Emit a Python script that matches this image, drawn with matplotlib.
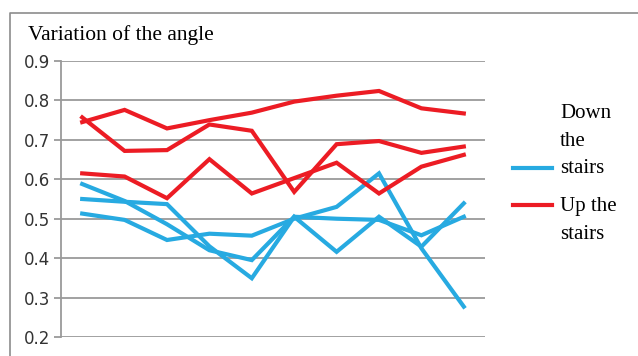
import matplotlib.pyplot as plt
from matplotlib.lines import Line2D

# measurement index along the stairs
steps = list(range(1, 11))

down_1 = [0.588, 0.545, 0.486, 0.42, 0.395, 0.505, 0.50, 0.497, 0.458, 0.505]
down_2 = [0.55, 0.543, 0.537, 0.43, 0.349, 0.505, 0.416, 0.505, 0.429, 0.539]
down_3 = [0.513, 0.497, 0.446, 0.462, 0.457, 0.50, 0.53, 0.615, 0.425, 0.277]

up_1 = [0.745, 0.776, 0.729, 0.75, 0.769, 0.797, 0.812, 0.824, 0.78, 0.767]
up_2 = [0.757, 0.672, 0.674, 0.739, 0.723, 0.568, 0.689, 0.697, 0.667, 0.683]
up_3 = [0.615, 0.607, 0.552, 0.651, 0.564, 0.603, 0.642, 0.564, 0.632, 0.662]

yticks = [0.2, 0.3, 0.4, 0.5, 0.6, 0.7, 0.8, 0.9]

BLUE = '#27aae1'
RED = '#ec1c24'
GRID = '#9a9a9a'

W, H = 638, 356
fig = plt.figure(figsize=(W / 100, H / 100), dpi=100)
ax = fig.add_axes([61 / W, 1 - 337 / H, (485 - 61) / W, (337 - 61) / H])

for ys in (down_1, down_2, down_3):
    ax.plot(steps, ys, color=BLUE, lw=3.0, solid_joinstyle='miter')
for ys in (up_1, up_2, up_3):
    ax.plot(steps, ys, color=RED, lw=3.0, solid_joinstyle='miter')

ax.set_xlim(0.5, 10.5)
ax.set_ylim(0.2, 0.9)
ax.set_yticks(yticks)
ax.set_yticklabels(['%.1f' % v for v in yticks],
                   family=['Liberation Sans Narrow', 'DejaVu Sans'],
                   fontsize=12, color='#333333')
ax.set_xticks([])
ax.yaxis.grid(True, color=GRID, lw=1.3)
ax.set_axisbelow(True)
ax.tick_params(axis='y', length=5, width=1.3, color=GRID, pad=3)
for side in ('top', 'right', 'bottom'):
    ax.spines[side].set_visible(False)
ax.spines['left'].set_color(GRID)
ax.spines['left'].set_linewidth(1.3)

serif = ['Liberation Serif', 'DejaVu Serif']
fig.text(28 / W, 1 - 40 / H, 'Variation of the angle', family=serif,
         fontsize=15.5, ha='left', va='baseline')

# legend, drawn by hand to the right of the plot
fig.add_artist(Line2D([513 / W, 552 / W], [1 - 168 / H] * 2, color=BLUE,
                      lw=3, transform=fig.transFigure))
fig.add_artist(Line2D([513 / W, 552 / W], [1 - 205 / H] * 2, color=RED,
                      lw=3, transform=fig.transFigure))
for txt, y in (('Down', 118), ('the', 146), ('stairs', 173),
               ('Up the', 211), ('stairs', 239)):
    fig.text(560 / W, 1 - y / H, txt, family=serif, fontsize=15,
             ha='left', va='baseline')

# chart frame
fig.add_artist(Line2D([10 / W, 10 / W, 1], [0, 1 - 13 / H, 1 - 13 / H],
                      color='#8c8c8c', lw=1.2, transform=fig.transFigure))

fig.savefig('out.png', dpi=100)
